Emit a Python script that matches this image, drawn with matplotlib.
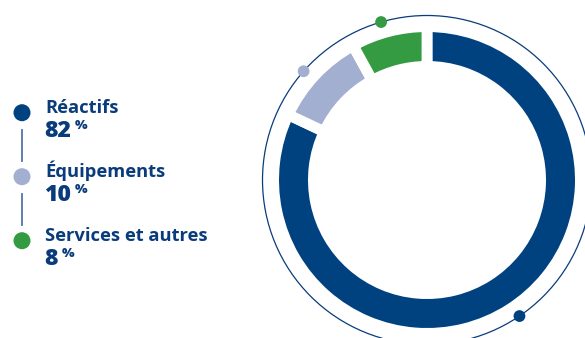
import numpy as np
import matplotlib.pyplot as plt
from matplotlib.patches import Circle

labels = ["Réactifs", "Équipements", "Services et autres"]
values = [82, 10, 8]
colors = ["#004180", "#a3afd0", "#349b42"]
text_color = "#0a3c7c"

W, H = 585, 338
fig = plt.figure(figsize=(W / 100, H / 100), dpi=100)
ax = fig.add_axes([0, 0, 1, 1])

# donut (pixel coordinates, y up)
cx, cy = 427, H - 180
r_out, r_in = 148, 119
gap = 7.8  # white edge, in points
gap_px = gap * 100 / 72
ax.pie(values, colors=colors, startangle=90, counterclock=False,
       center=(cx, cy), radius=r_out + gap_px / 2,
       wedgeprops=dict(width=r_out - r_in + gap_px, edgecolor="white", linewidth=gap))

# thin outer ring with dots near the middle of each segment
r_ring = 164.5
ax.add_patch(Circle((cx, cy), r_ring, fill=False, edgecolor="#0a3c7c", linewidth=0.9))
mids = np.cumsum(values) - np.array(values) / 2 - 0.5
ang = np.deg2rad(90 - 360 * mids / sum(values))
ax.scatter(cx + r_ring * np.cos(ang), cy + r_ring * np.sin(ang), s=72, c=colors,
           zorder=5, linewidths=0)

ax.set_xlim(0, W)
ax.set_ylim(0, H)
ax.set_aspect("equal")
ax.axis("off")

# legend on the left
x_dot, x_txt = 22, 45
y0, step = 112.7, 64
ys = [y0 + i * step for i in range(len(labels))]
for i in range(len(labels) - 1):
    ax.plot([x_dot, x_dot], [H - (ys[i] + 17.5), H - (ys[i + 1] - 16)],
            color="#5673a6", linewidth=1.3)
ax.scatter([x_dot] * len(labels), [H - y for y in ys], s=150, c=colors, zorder=5, linewidths=0)

lab_font = dict(family="Open Sans", weight="bold", color=text_color)
num_font = dict(family="Open Sans", weight=800, color=text_color)
fig.canvas.draw()
renderer = fig.canvas.get_renderer()

# size the label font so that the longest label is as wide as in the reference
probe = ax.text(0, 0, labels[2], fontsize=10, **lab_font)
w10 = probe.get_window_extent(renderer=renderer).width
probe.remove()
lab_size = 10 * 163 / w10

for lab, val, y in zip(labels, values, ys):
    ax.text(x_txt, H - y, lab, fontsize=lab_size, va="baseline", ha="left", **lab_font)
    t = ax.text(x_txt - 1, H - (y + 24.5), str(val), fontsize=lab_size * 1.25,
                va="baseline", ha="left", **num_font)
    bb = t.get_window_extent(renderer=renderer)
    ax.text(bb.x1 + 4, H - (y + 24.5) + 17, "%", fontsize=lab_size * 0.72,
            va="top", ha="left", **num_font)

fig.savefig("out.png", dpi=100)
